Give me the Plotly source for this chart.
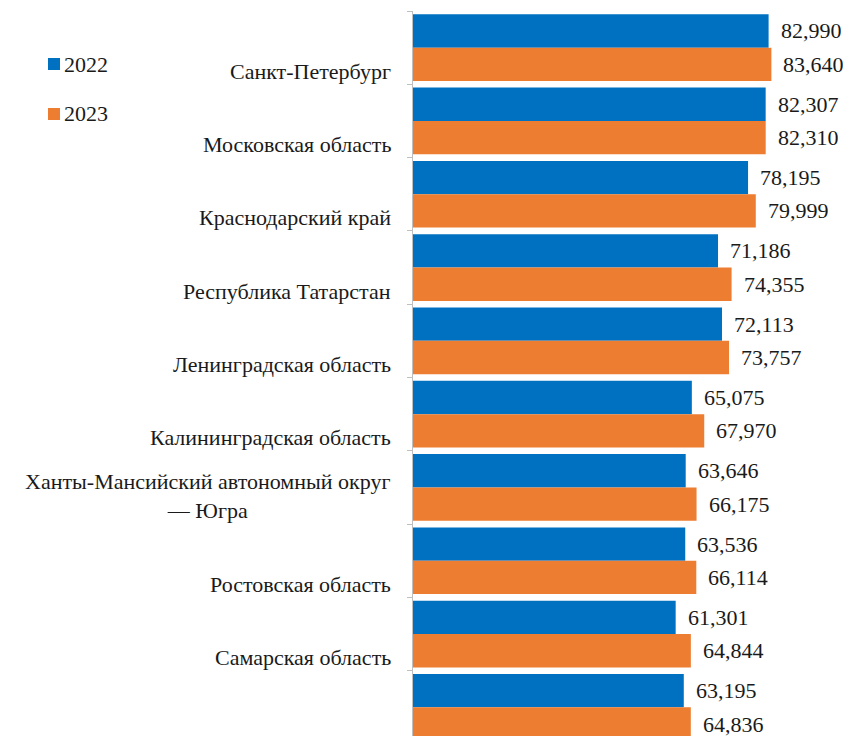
import plotly.graph_objects as go

# Regions (top to bottom); the tenth row has no visible caption
regions = [
    "Санкт-Петербург",
    "Московская область",
    "Краснодарский край",
    "Республика Татарстан",
    "Ленинградская область",
    "Калининградская область",
    "Ханты-Мансийский автономный округ<br>— Югра",
    "Ростовская область",
    "Самарская область",
    "",
]
values_2022 = [82990, 82307, 78195, 71186, 72113, 65075, 63646, 63536, 61301, 63195]
values_2023 = [83640, 82310, 79999, 74355, 73757, 67970, 66175, 66114, 64844, 64836]
series_names = ["2022", "2023"]

BLUE = "#0070C0"
ORANGE = "#ED7D31"
AXIS = "#BFBFBF"
TEXT = "#1A1A1A"
FONT = "Liberation Serif, Times New Roman, serif"
FS = 22

W, H = 861, 736
ML, MT = 413, 11
ROW_PX = 73.3
BAR_OFF = 16.7  # half of a single bar's thickness in px

pos = list(range(len(regions)))

fig = go.Figure()
for name, vals, col in [(series_names[0], values_2022, BLUE), (series_names[1], values_2023, ORANGE)]:
    fig.add_trace(go.Bar(
        y=pos, x=vals, orientation="h", name=name,
        marker=dict(color=col, line=dict(width=0)),
        showlegend=False,
    ))

annotations = []
# value labels at the end of each bar
for i in pos:
    for vals, dy in [(values_2022, BAR_OFF), (values_2023, -BAR_OFF)]:
        annotations.append(dict(
            x=vals[i], y=i, xref="x", yref="y", text=f"{vals[i]:,}",
            showarrow=False, xanchor="left", yanchor="middle",
            xshift=10, yshift=dy, font=dict(family=FONT, size=FS, color=TEXT),
        ))

# region captions, bottom-aligned in the lower half of each row
for i, name in enumerate(regions):
    if not name:
        continue
    annotations.append(dict(
        x=0, y=i, xref="paper", yref="y", text=name, align="center",
        showarrow=False, xanchor="right", yanchor="bottom",
        xshift=-20, yshift=-38, font=dict(family=FONT, size=FS, color=TEXT),
    ))

# legend
plot_w = W - ML
legend_items = [(series_names[0], BLUE, 64), (series_names[1], ORANGE, 114)]
shapes = []
for name, col, cy in legend_items:
    shapes.append(dict(
        type="rect", xref="paper", yref="paper",
        x0=(48 - ML) / plot_w, x1=(60 - ML) / plot_w,
        y0=1 - (cy + 6 - MT) / (H - MT), y1=1 - (cy - 6 - MT) / (H - MT),
        fillcolor=col, line=dict(width=0),
    ))
    annotations.append(dict(
        x=(62 - ML) / plot_w, y=1 - (cy - MT) / (H - MT), xref="paper", yref="paper",
        text=name, showarrow=False, xanchor="left", yanchor="middle",
        font=dict(family=FONT, size=FS, color=TEXT),
    ))

fig.update_layout(
    width=W, height=H,
    margin=dict(l=ML, r=0, t=MT, b=0, pad=0),
    paper_bgcolor="white", plot_bgcolor="white",
    font=dict(family=FONT),
    barmode="group", bargap=0.09, bargroupgap=0,
    xaxis=dict(range=[0, (W - ML) / 355.6 * 82990], visible=False, fixedrange=True),
    yaxis=dict(
        range=[-0.5 + (H - MT) / ROW_PX, -0.5],
        tickvals=[i - 0.5 for i in range(len(regions) + 1)],
        showticklabels=False, ticks="outside", ticklen=5, tickcolor=AXIS, tickwidth=1,
        showline=True, linecolor=AXIS, linewidth=1, showgrid=False, zeroline=False,
        fixedrange=True,
    ),
    annotations=annotations, shapes=shapes,
)

fig.write_html("out.html")
